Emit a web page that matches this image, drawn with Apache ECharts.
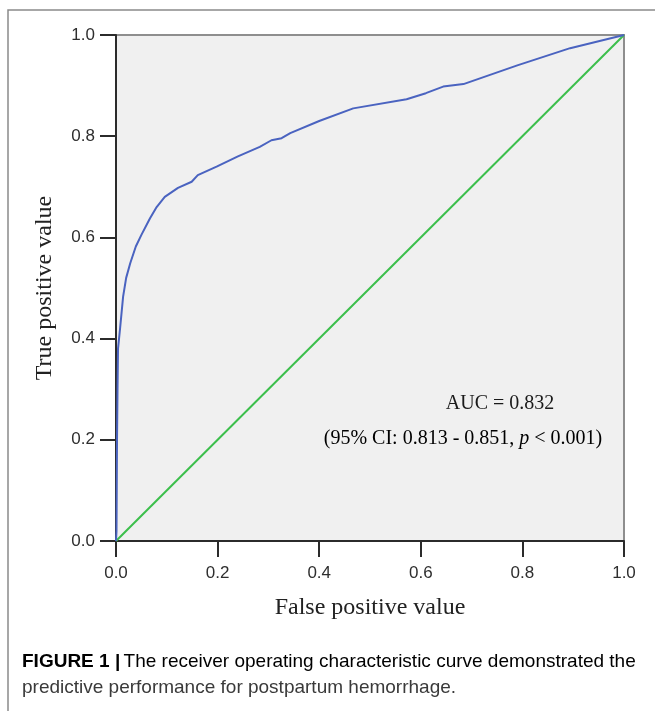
<!DOCTYPE html>
<html>
<head>
<meta charset="utf-8">
<script src="https://cdn.jsdelivr.net/npm/echarts@6/dist/echarts.min.js"></script>
<style>
  html, body { margin: 0; padding: 0; background: #fff; }
  #chart { width: 655px; height: 711px; }
</style>
</head>
<body>
<div id="chart"></div>
<script>
// ROC curve
var fpr = [0, 0.001, 0.002, 0.003, 0.004, 0.008, 0.014, 0.02, 0.028, 0.039, 0.05, 0.067, 0.08, 0.096, 0.122, 0.149, 0.161, 0.198, 0.24, 0.283, 0.306, 0.326, 0.343, 0.40, 0.467, 0.572, 0.61, 0.644, 0.684, 0.79, 0.894, 1]
var tpr = [0, 0.02, 0.2, 0.3, 0.38, 0.42, 0.483, 0.52, 0.549, 0.582, 0.605, 0.638, 0.66, 0.68, 0.698, 0.71, 0.723, 0.74, 0.76, 0.779, 0.792, 0.796, 0.806, 0.83, 0.855, 0.873, 0.885, 0.898, 0.903, 0.94, 0.974, 1]
var refX = [0, 1]
var refY = [0, 1]
var ticks = [0, 0.2, 0.4, 0.6, 0.8, 1.0]

var roc = fpr.map(function (v, i) { return [v, tpr[i]] })
var diag = refX.map(function (v, i) { return [v, refY[i]] })

var axisDark = '#2b2b2b'
var serif = '"Liberation Serif", "DejaVu Serif", serif'
var sans = '"Liberation Sans", Arial, sans-serif'

var chart = echarts.init(document.getElementById('chart'))
chart.setOption({
    animation: false,
    grid: {
        show: true,
        left: 116,
        top: 35,
        width: 508,
        height: 506,
        backgroundColor: '#f0f0f0',
        borderColor: '#8e8e8e',
        borderWidth: 2
    },
    xAxis: {
        type: 'value',
        min: ticks[0],
        max: ticks[ticks.length - 1],
        interval: 0.2,
        name: 'False positive value',
        nameLocation: 'middle',
        nameGap: 55,
        nameTextStyle: { fontFamily: serif, fontSize: 24, color: '#222' },
        axisLine: { lineStyle: { color: axisDark, width: 2 } },
        axisTick: { length: 16, lineStyle: { color: axisDark, width: 2 } },
        axisLabel: {
            margin: 24,
            fontFamily: sans,
            fontSize: 17,
            color: '#2e2e2e',
            formatter: function (v) { return v.toFixed(1) }
        },
        splitLine: { show: false }
    },
    yAxis: {
        type: 'value',
        min: ticks[0],
        max: ticks[ticks.length - 1],
        interval: 0.2,
        name: 'True positive value',
        nameLocation: 'middle',
        nameGap: 59,
        nameTextStyle: { fontFamily: serif, fontSize: 24, color: '#222' },
        axisLine: { lineStyle: { color: axisDark, width: 2 } },
        axisTick: { length: 16, lineStyle: { color: axisDark, width: 2 } },
        axisLabel: {
            margin: 21,
            fontFamily: sans,
            fontSize: 17,
            color: '#2e2e2e',
            formatter: function (v) { return v.toFixed(1) }
        },
        splitLine: { show: false }
    },
    series: [
        {
            type: 'line',
            data: diag,
            showSymbol: false,
            lineStyle: { color: '#3cbf4c', width: 2 },
            z: 2
        },
        {
            type: 'line',
            data: roc,
            showSymbol: false,
            lineStyle: { color: '#4a63c0', width: 2 },
            z: 3
        }
    ],
    graphic: [
        {
            type: 'polyline',
            shape: { points: [[8, 711], [8, 10], [655, 10]] },
            style: { stroke: '#8a8a8a', lineWidth: 1.5, fill: null },
            silent: true
        },
        {
            type: 'text',
            x: 500,
            y: 404,
            style: {
                text: 'AUC = 0.832',
                font: '20px ' + serif,
                fill: '#1a1a1a',
                align: 'center',
                verticalAlign: 'middle'
            }
        },
        {
            type: 'text',
            x: 463,
            y: 439,
            style: {
                text: '{n|(95% CI: 0.813 - 0.851, }{i|p}{n| < 0.001)}',
                align: 'center',
                verticalAlign: 'middle',
                rich: {
                    n: { fontFamily: serif, fontSize: 20, color: '#1a1a1a' },
                    i: { fontFamily: serif, fontSize: 20, fontStyle: 'italic', color: '#1a1a1a' }
                }
            }
        },
        {
            type: 'text',
            x: 22,
            y: 662,
            style: {
                text: '{b|FIGURE 1 |} {n|The receiver operating characteristic curve demonstrated the}',
                verticalAlign: 'middle',
                rich: {
                    b: { fontFamily: sans, fontSize: 19, fontWeight: 'bold', color: '#333' },
                    n: { fontFamily: sans, fontSize: 19, color: '#3a3a3a' }
                }
            }
        },
        {
            type: 'text',
            x: 22,
            y: 688,
            style: {
                text: 'predictive performance for postpartum hemorrhage.',
                font: '19px ' + sans,
                fill: '#3a3a3a',
                verticalAlign: 'middle'
            }
        }
    ]
})
</script>
</body>
</html>
